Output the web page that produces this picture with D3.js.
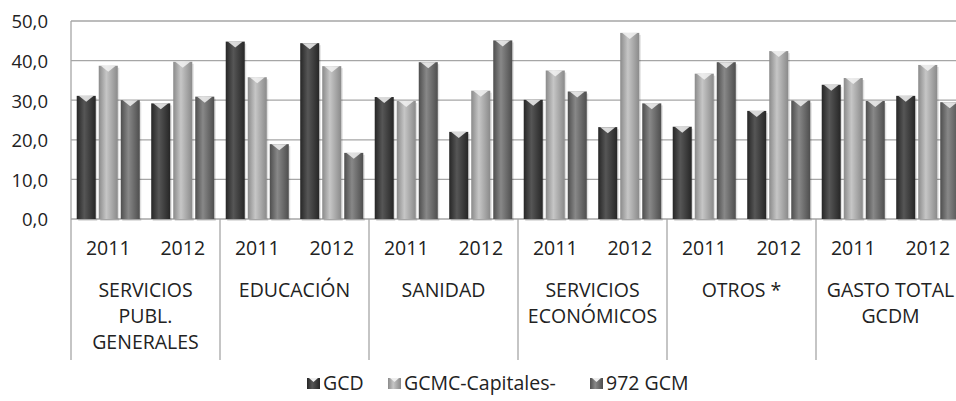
<!DOCTYPE html>
<html>
<head>
<meta charset="utf-8">
<script src="https://cdn.jsdelivr.net/npm/d3@7"></script>
<style>
  body { margin: 0; background: #fff; }
  svg { font-family: "Open Sans", Lato, sans-serif; }
</style>
</head>
<body>
<svg width="956" height="401"></svg>
<script>
// data
var categories = ["SERVICIOS|PUBL.|GENERALES", "EDUCACIÓN", "SANIDAD", "SERVICIOS|ECONÓMICOS", "OTROS *", "GASTO TOTAL|GCDM"];
var years = ["2011", "2012"];
var series = ["GCD", "GCMC-Capitales-", "972 GCM"];
var yTicks = [0, 10, 20, 30, 40, 50];

// values per category, per year
var valGCD  = [[31.1, 29.2], [44.8, 44.4], [30.8, 22.0], [30.1, 23.2], [23.3, 27.3], [33.9, 31.1]];
var valGCMC = [[38.7, 39.7], [35.8, 38.6], [29.8, 32.4], [37.5, 47.0], [36.7, 42.4], [35.6, 38.9]];
var val972  = [[30.0, 30.9], [18.9, 16.7], [39.6, 45.1], [32.2, 29.2], [39.6, 29.9], [29.8, 29.5]];

var colors = {
    "GCD": ["#262626", "#565656"],
    "GCMC-Capitales-": ["#8a8a8a", "#c6c6c6"],
    "972 GCM": ["#4e4e4e", "#888888"]
}

var svg = d3.select("svg");
var plotLeft = 71, plotRight = 965, plotTop = 21, plotBottom = 219;

var x0 = d3.scaleBand().domain(categories).range([plotLeft, plotRight]);
var x1 = d3.scaleBand().domain(years).range([0, x0.bandwidth()]);
var x2 = d3.scaleBand().domain(series).range([0, x1.bandwidth()])
    .paddingInner(0.136).paddingOuter(0.26);
var y = d3.scaleLinear().domain([0, 50]).range([plotBottom, plotTop]);

// gradients
var defs = svg.append("defs");
series.forEach(function (s, i) {
    var g = defs.append("linearGradient").attr("id", "grad" + i)
        .attr("x1", "0%").attr("x2", "100%").attr("y1", "0%").attr("y2", "0%");
    g.append("stop").attr("offset", "0%").attr("stop-color", colors[s][0]);
    g.append("stop").attr("offset", "40%").attr("stop-color", colors[s][1]);
    g.append("stop").attr("offset", "100%").attr("stop-color", colors[s][0]);
});

// gridlines
svg.append("g").selectAll("line")
    .data(yTicks)
    .enter().append("line")
    .attr("x1", plotLeft).attr("x2", plotRight)
    .attr("y1", function (d) { return y(d); })
    .attr("y2", function (d) { return y(d); })
    .style("stroke", "#a6a6a6").style("stroke-width", "1.3px");

// y labels
svg.append("g").selectAll("text")
    .data(yTicks)
    .enter().append("text")
    .attr("x", 48).attr("y", function (d) { return y(d) + 1; })
    .attr("dy", "0.35em")
    .attr("text-anchor", "end")
    .style("font-size", "18.5px").style("fill", "#222")
    .text(function (d) { return d3.format(".1f")(d).replace(".", ","); });

// build rows
var rows = [];
categories.forEach(function (c, ci) {
    years.forEach(function (yr, yi) {
        var vals = [valGCD[ci][yi], valGCMC[ci][yi], val972[ci][yi]];
        series.forEach(function (s, si) {
            rows.push({ cat: c, year: yr, series: s, si: si, value: vals[si] });
        });
    });
});

var bx = function (d) { return x0(d.cat) + x1(d.year) + x2(d.series); };
var bw = x2.bandwidth();

// soft shadow
svg.append("g").selectAll("rect")
    .data(rows)
    .enter().append("rect")
    .attr("x", function (d) { return bx(d) + 1.5; })
    .attr("y", function (d) { return y(d.value) + 2; })
    .attr("width", bw)
    .attr("height", function (d) { return plotBottom - y(d.value); })
    .style("fill", "#000").style("opacity", 0.12);

svg.append("g").selectAll("rect")
    .data(rows)
    .enter().append("rect")
    .attr("x", bx)
    .attr("y", function (d) { return y(d.value); })
    .attr("width", bw)
    .attr("height", function (d) { return plotBottom - y(d.value); })
    .style("fill", function (d) { return "url(#grad" + d.si + ")"; });

// chevron highlight on top
svg.append("g").selectAll("path")
    .data(rows)
    .enter().append("path")
    .attr("d", function (d) {
        var x = bx(d), t = y(d.value);
        return "M" + (x + 2) + "," + t + "L" + (x + bw - 2) + "," + t + "L" + (x + bw / 2) + "," + (t + 6) + "Z";
    })
    .style("fill", "#f2f2f2").style("opacity", 0.85);

// separators
var seps = categories.map(function (c) { return x0(c); }).concat([plotRight]);
svg.append("g").selectAll("line")
    .data(seps)
    .enter().append("line")
    .attr("x1", function (d) { return d; }).attr("x2", function (d) { return d; })
    .attr("y1", function (d, i) { return i == 0 ? plotTop : plotBottom; })
    .attr("y2", 360)
    .style("stroke", "#a6a6a6").style("stroke-width", "1.3px");

// year labels
categories.forEach(function (c) {
    svg.append("g").selectAll("text")
        .data(years)
        .enter().append("text")
        .attr("x", function (d) { return x0(c) + x1(d) + x1.bandwidth() / 2; })
        .attr("y", 248).attr("dy", "0.35em")
        .attr("text-anchor", "middle")
        .style("font-size", "19.5px").style("fill", "#222")
        .text(function (d) { return d; });
});

// category labels
categories.forEach(function (c) {
    var lines = c.split("|");
    svg.append("g").selectAll("text")
        .data(lines)
        .enter().append("text")
        .attr("x", x0(c) + x0.bandwidth() / 2)
        .attr("y", function (d, i) { return 290 + i * 26; })
        .attr("dy", "0.35em")
        .attr("text-anchor", "middle")
        .style("font-size", "19.5px").style("fill", "#222")
        .text(function (d) { return d; });
});

// legend
var legX = [307, 388, 590];
var legend = svg.append("g").selectAll("g")
    .data(series)
    .enter().append("g")
    .attr("transform", function (d, i) { return "translate(" + legX[i] + ",383)"; });
legend.append("rect")
    .attr("x", 0).attr("y", -5).attr("width", 13).attr("height", 11)
    .style("fill", function (d, i) { return "url(#grad" + i + ")"; });
legend.append("path")
    .attr("d", "M2,-5L11,-5L6.5,-1Z").style("fill", "#eee");
legend.append("text")
    .attr("x", 16).attr("dy", "0.35em")
    .style("font-size", "19.5px").style("fill", "#222")
    .text(function (d) { return d; });
</script>
</body>
</html>
